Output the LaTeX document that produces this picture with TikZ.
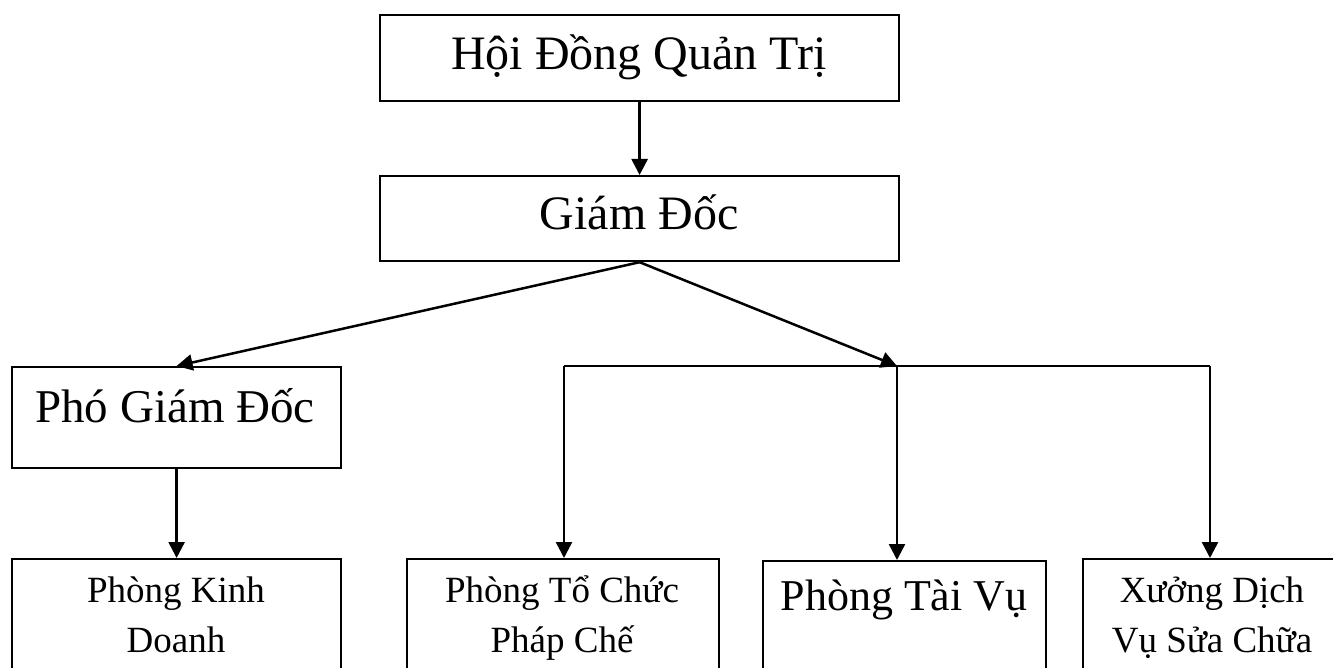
\documentclass[tikz,border=0pt]{standalone}
\usepackage{fontspec}
\setmainfont{Liberation Serif}
\usetikzlibrary{arrows.meta}

\tikzset{
  box/.style={draw=black, line width=2.2pt, fill=none, inner sep=0pt, anchor=north west},
  big/.style={font=\fontsize{48}{58}\selectfont, inner sep=0pt, anchor=base},
  mid/.style={font=\fontsize{44}{52}\selectfont, inner sep=0pt, anchor=base},
  small/.style={font=\fontsize{37}{50}\selectfont, inner sep=0pt, anchor=base, align=center},
  link/.style={line width=2.5pt, draw=black},
  arr/.style={link, -{Triangle[length=16pt, width=16pt]}},
}

\begin{document}
\begin{tikzpicture}[x=1pt, y=-1pt]
  \clip (0,0) rectangle (1333,668);
  \fill[white] (0,0) rectangle (1333,668);

  % top level boxes
  \node[box, minimum width=519pt, minimum height=86pt] (hdqt) at (379,14) {};
  \node[big] (hdqt-t) at (639,70) {Hội Đồng Quản Trị};

  \node[box, minimum width=519pt, minimum height=85pt] (gd) at (379,175) {};
  \node[big] (gd-t) at (639,230) {Giám Đốc};

  \node[box, minimum width=329pt, minimum height=101pt] (pgd) at (11,366) {};
  \node[big, font=\fontsize{47}{56}\selectfont] (pgd-t) at (175,422) {Phó Giám Đốc};

  % departments (boxes run past the lower edge); the base anchor sits on the last line
  \node[box, minimum width=329pt, minimum height=150pt] (pkd) at (11,558) {};
  \node[small] (pkd-t) at (176,652) {Phòng Kinh\\Doanh};

  \node[box, minimum width=312pt, minimum height=150pt] (ptc) at (406,558) {};
  \node[small] (ptc-t) at (562,652) {Phòng Tổ Chức\\Pháp Chế};

  \node[box, minimum width=283pt, minimum height=150pt] (ptv) at (762,560) {};
  \node[mid] (ptv-t) at (904,610) {Phòng Tài Vụ};

  \node[box, minimum width=270pt, minimum height=150pt] (xdv) at (1082,558) {};
  \node[small] (xdv-t) at (1212,652) {Xưởng Dịch\\Vụ Sửa Chữa};

  % bus junctions
  \coordinate (busL) at (564,366);
  \coordinate (busM) at (897,366);
  \coordinate (busR) at (1210,366);

  % connectors
  \draw[arr] (hdqt.south) -- (gd.north);
  \draw[arr] (gd.south) -- (pgd.north);
  \draw[arr] (pgd.south) -- (pkd.north);
  \draw[arr] (gd.south) -- (busM);
  \draw[link] (busL) -- (busR);
  \draw[arr] (busL) -- (busL |- ptc.north);
  \draw[arr] (busM) -- (busM |- ptv.north);
  \draw[arr] (busR) -- (busR |- xdv.north);
\end{tikzpicture}
\end{document}
